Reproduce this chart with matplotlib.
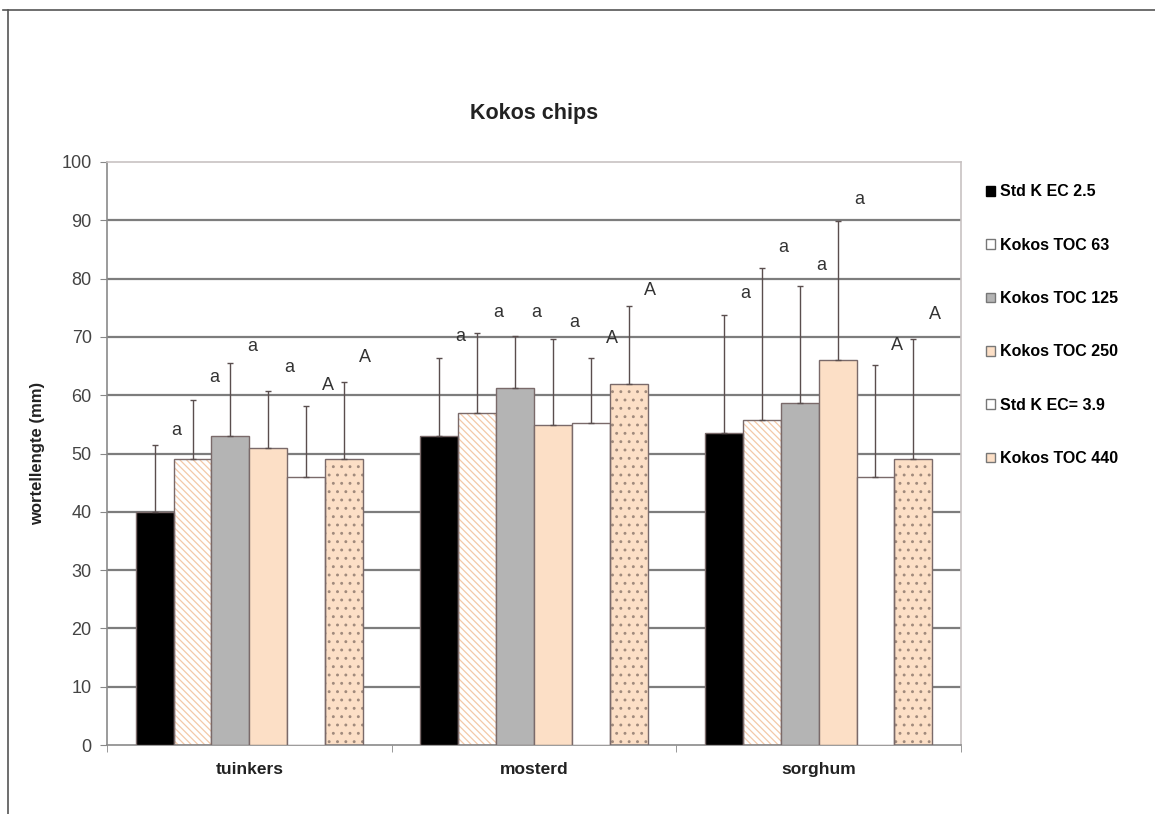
import numpy as np
import matplotlib.pyplot as plt
from matplotlib.patches import Patch
from matplotlib.lines import Line2D

plt.rcParams['font.family'] = ['Liberation Sans', 'DejaVu Sans']
plt.rcParams['hatch.linewidth'] = 0.9

groepen = ['tuinkers', 'mosterd', 'sorghum']
reeksen = ['Std K EC 2.5', 'Kokos TOC 63', 'Kokos TOC 125',
           'Kokos TOC 250', 'Std K EC= 3.9', 'Kokos TOC 440']

# gemiddelde wortellengte (mm) per reeks, per groep
std_ec25 = [40.0, 53.0, 53.6]
toc63 = [49.0, 57.0, 55.7]
toc125 = [53.0, 61.3, 58.7]
toc250 = [51.0, 54.9, 66.0]
std_ec39 = [46.0, 55.2, 45.9]
toc440 = [49.0, 61.9, 49.0]

# standaardafwijking (alleen bovenkant getekend)
sd_ec25 = [11.5, 13.3, 20.1]
sd_63 = [10.2, 13.7, 26.1]
sd_125 = [12.5, 8.9, 20.0]
sd_250 = [9.7, 14.7, 23.9]
sd_ec39 = [12.2, 11.1, 19.2]
sd_440 = [13.2, 13.4, 20.7]

# letters boven de balken en hun hoogte
letters = ['a', 'a', 'a', 'a', 'A', 'A']
letter_y_tuinkers = [54.0, 63.0, 68.3, 64.8, 61.7, 66.4]
letter_y_mosterd = [70.0, 74.1, 74.1, 72.4, 69.8, 78.0]
letter_y_sorghum = [77.5, 85.4, 82.3, 93.5, 68.6, 73.8]

means = [std_ec25, toc63, toc125, toc250, std_ec39, toc440]
sds = [sd_ec25, sd_63, sd_125, sd_250, sd_ec39, sd_440]
letter_y = [letter_y_tuinkers, letter_y_mosterd, letter_y_sorghum]

peach = '#FCDFC6'
rand = '#7a6a6a'
faces = ['black', 'white', '#B4B4B4', peach, 'white', peach]
hatch_col = [None, '#F3C9A8', None, None, None, '#a08a7c']
hatches = [None, '\\\\\\\\\\', None, None, None, '..']

fig = plt.figure(figsize=(11.55, 8.14), dpi=100)
ax = fig.add_axes([107/1155, 1-745/814, (961-107)/1155, (745-162)/814])

x = np.arange(len(groepen))
w = 0.133
for i in range(6):
    pos = x + (i - 2.5) * w
    if hatches[i]:
        ax.bar(pos, means[i], w, color=faces[i], edgecolor=hatch_col[i],
               hatch=hatches[i], linewidth=0, zorder=2)
        ax.bar(pos, means[i], w, fill=False, edgecolor=rand, linewidth=1, zorder=3)
    else:
        ax.bar(pos, means[i], w, color=faces[i], edgecolor=rand, linewidth=1, zorder=3)
    ax.errorbar(pos, means[i], yerr=[np.zeros(3), sds[i]], fmt='none',
                ecolor='#5a4e4e', elinewidth=1, capsize=2.5, capthick=1, zorder=4)
    for g in range(3):
        ax.text(pos[g] + 0.075, letter_y[g][i], letters[i], ha='center',
                va='center', fontsize=13, color='#333333')

ax.set_ylim(0, 100)
ax.set_xlim(-0.5, 2.5)
ax.set_yticks(np.arange(0, 101, 10))
for v in range(10, 100, 10):
    ax.axhline(v, color='#7d7d7d', lw=1.6, zorder=1)
ax.tick_params(axis='y', labelsize=13, labelcolor='#444444', length=5,
               color='#888888', pad=6)
ax.set_xticks(x)
ax.set_xticklabels(groepen, fontsize=12.5, fontweight='bold', color='#222222')
ax.tick_params(axis='x', length=0, pad=12)
ax.set_xticks([-0.5, 0.5, 1.5, 2.5], minor=True)
ax.tick_params(axis='x', which='minor', length=5, color='#888888')

for s in ['left', 'bottom']:
    ax.spines[s].set_color('#8a8a8a')
    ax.spines[s].set_linewidth(1.2)
for s in ['top', 'right']:
    ax.spines[s].set_color('#c8c2c2')
    ax.spines[s].set_linewidth(1.2)

ax.set_ylabel('wortellengte (mm)', fontsize=12, fontweight='bold', color='#222222')
ax.yaxis.set_label_coords(-0.073, 0.5)

fig.text(534/1155, 1-113/814, 'Kokos chips', ha='center', va='center',
         fontsize=15.5, fontweight='bold', color='#222222')

handles = [Patch(facecolor=faces[i], edgecolor='#777777' if i else 'black', linewidth=1)
           for i in range(6)]
fig.legend(handles, reeksen, loc='upper left', bbox_to_anchor=(972/1155, 1-170/814),
           frameon=False, handlelength=0.55, handleheight=0.55, handletextpad=0.3,
           labelspacing=2.4, prop={'size': 11.5, 'weight': 'bold'})

# kader om de figuur
fig.add_artist(Line2D([3/1155, 1], [1-10/814, 1-10/814], color='#555555', lw=1.2))
fig.add_artist(Line2D([8/1155, 8/1155], [0, 1-10/814], color='#555555', lw=1.2))

fig.savefig('out.png', dpi=100)
